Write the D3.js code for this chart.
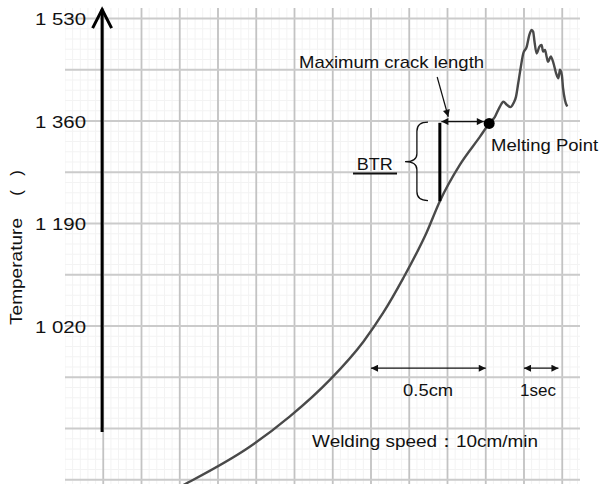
<!DOCTYPE html>
<html>
<head>
<meta charset="utf-8">
<script src="https://cdn.jsdelivr.net/npm/d3@7"></script>
<style>
  html, body { margin: 0; padding: 0; background: #fff; }
  svg { display: block; }
  text { font-family: "Liberation Sans", Arial, Helvetica, sans-serif; fill: #111; }
</style>
</head>
<body>
<div id="chart"></div>
<script>
// Weld pool thermal cycle: time after arc passage (s) vs temperature (deg C)
const timeSec = [3.00, 3.18, 4.84, 5.88, 6.93, 7.80, 8.32, 8.84, 9.46, 9.80, 10.33, 10.85, 11.09,
  11.24, 11.37, 11.46, 11.55, 11.65, 11.72, 11.79, 11.85, 11.91, 11.98, 12.07, 12.14, 12.20, 12.24,
  12.27, 12.33, 12.40, 12.46, 12.50, 12.55, 12.59, 12.63, 12.70, 12.77, 12.84, 12.90, 12.94, 12.99,
  13.02, 13.07, 13.13];
const tempC = [753, 759, 820, 870, 931, 994, 1042, 1099, 1176, 1227, 1288, 1334, 1356,
  1367, 1384, 1392, 1387, 1383, 1389, 1400, 1423, 1447, 1472, 1483, 1503, 1511, 1508,
  1494, 1472, 1483, 1486, 1475, 1478, 1467, 1458, 1467, 1456, 1439, 1431, 1445, 1436,
  1415, 1395, 1384];

const tickTemps = [1020, 1190, 1360, 1530];
const tickLabels = ["1 020", "1 190", "1 360", "1 530"];

// Melting point and brittle temperature range (BTR)
const meltTime = 11.09, meltTemp = 1356;
const btrTime = 9.80, btrLowTemp = 1227;

const W = 600, H = 484;
const svg = d3.select("#chart").append("svg").attr("width", W).attr("height", H);

// chart paper: 1 s per major column, 85 deg C per major row
const x = d3.scaleLinear().domain([0, 13.4641]).range([65, 580]);
const y = d3.scaleLinear().domain([1020, 1530]).range([326, 18.5]);
const gridTop = 8, gridBottom = H;

const defs = svg.append("defs");
defs.append("filter").attr("id", "soft").append("feGaussianBlur").attr("stdDeviation", 0.55);
defs.append("clipPath").attr("id", "paper").append("rect")
  .attr("x", x(0)).attr("y", gridTop).attr("width", x(13.4641) - x(0)).attr("height", gridBottom - gridTop);
defs.append("marker").attr("id", "head").attr("viewBox", "0 0 10 10")
  .attr("refX", 10).attr("refY", 5).attr("markerWidth", 10).attr("markerHeight", 7)
  .attr("markerUnits", "userSpaceOnUse").attr("orient", "auto-start-reverse")
  .append("path").attr("d", "M0,0 L10,5 L0,10 Z").attr("fill", "#111");

const grid = svg.append("g").attr("clip-path", "url(#paper)").attr("filter", "url(#soft)");

// faint minor rulings
const minorT = d3.range(0, 13.5, 0.2);
const minorY = d3.range(765, 1531, 17);
grid.selectAll(".mv").data(minorT).join("line")
  .attr("x1", d => x(d)).attr("x2", d => x(d)).attr("y1", gridTop).attr("y2", gridBottom)
  .attr("stroke", "#f3f3f3").attr("stroke-width", 1);
grid.selectAll(".mh").data(minorY).join("line")
  .attr("x1", x(0)).attr("x2", x(13.4641)).attr("y1", d => y(d)).attr("y2", d => y(d))
  .attr("stroke", "#f3f3f3").attr("stroke-width", 1);

// major rulings
const majorT = d3.range(1, 14);
const majorY = d3.range(765, 1531, 85);
grid.selectAll(".gv").data(majorT).join("line")
  .attr("x1", d => x(d)).attr("x2", d => x(d)).attr("y1", gridTop).attr("y2", gridBottom)
  .attr("stroke", "#c3c3c3").attr("stroke-width", 1.8);
grid.selectAll(".gh").data(majorY).join("line")
  .attr("x1", x(0)).attr("x2", x(13.4641)).attr("y1", d => y(d)).attr("y2", d => y(d))
  .attr("stroke", "#cbcbcb").attr("stroke-width", 1.8);

// temperature axis with open arrow head
const axisX = x(0.97);
svg.append("line").attr("x1", axisX).attr("x2", axisX)
  .attr("y1", y(844)).attr("y2", y(1545))
  .attr("stroke", "#000").attr("stroke-width", 3);
svg.append("path")
  .attr("d", `M${axisX - 9.5},${y(1514)} L${axisX},${y(1545)} L${axisX + 9.5},${y(1514)}`)
  .attr("fill", "none").attr("stroke", "#000").attr("stroke-width", 3).attr("stroke-linejoin", "miter");

function label(g, txt, px, py, width, anchor) {
  const t = g.append("text").attr("x", px).attr("y", py).attr("font-size", 17).text(txt);
  if (anchor) t.attr("text-anchor", anchor);
  if (width) t.attr("textLength", width).attr("lengthAdjust", "spacingAndGlyphs");
  return t;
}

// tick labels
tickTemps.forEach((v, i) => {
  label(svg, tickLabels[i], 86, y(v) + 6.5, 51, "end");
});

// axis title (rotated)
const titleX = 21.5;
svg.append("text").attr("transform", `translate(${titleX},325) rotate(-90)`)
  .attr("font-size", 17).attr("textLength", 107).attr("lengthAdjust", "spacingAndGlyphs")
  .text("Temperature");
svg.append("text").attr("transform", `translate(${titleX},193) rotate(-90)`)
  .attr("font-size", 17).attr("text-anchor", "middle").text("(");
svg.append("text").attr("transform", `translate(${titleX},173) rotate(-90)`)
  .attr("font-size", 17).attr("text-anchor", "middle").text(")");

// thermal cycle curve
const pts = timeSec.map((t, i) => [t, tempC[i]]);
const line = d3.line().x(d => x(d[0])).y(d => y(d[1])).curve(d3.curveMonotoneX);
svg.append("path").datum(pts).attr("d", line)
  .attr("fill", "none").attr("stroke", "#4a4a4a").attr("stroke-width", 2.4)
  .attr("stroke-linejoin", "round").attr("filter", "url(#soft)");

// melting point
svg.append("circle").attr("cx", x(meltTime)).attr("cy", y(meltTemp)).attr("r", 5.5).attr("fill", "#000");
label(svg, "Melting Point", x(11.14), y(1310), 107);

// BTR bar
svg.append("line").attr("x1", x(btrTime)).attr("x2", x(btrTime))
  .attr("y1", y(meltTemp + 1)).attr("y2", y(btrLowTemp))
  .attr("stroke", "#000").attr("stroke-width", 3);

// maximum crack length: double arrow from BTR bar to melting point
const arrowY = y(1359);
svg.append("line").attr("x1", x(9.84)).attr("x2", x(10.95))
  .attr("y1", arrowY).attr("y2", arrowY)
  .attr("stroke", "#111").attr("stroke-width", 1.3)
  .attr("marker-start", "url(#head)").attr("marker-end", "url(#head)");
svg.append("line").attr("x1", x(9.73)).attr("y1", y(1433)).attr("x2", x(10.02)).attr("y2", y(1367))
  .attr("stroke", "#111").attr("stroke-width", 1.2).attr("marker-end", "url(#head)");
label(svg, "Maximum crack length", x(6.12), y(1448), 185);

// brace grouping the BTR
const bx0 = x(9.49), bx1 = x(9.20), bx2 = x(8.89);
const bTop = y(1358), bMid = y(1292.5), bBot = y(1228);
svg.append("path")
  .attr("d", `M${bx0},${bTop} Q${bx1},${bTop} ${bx1},${bTop + 9}
    L${bx1},${bMid - 8} Q${bx1},${bMid} ${bx2},${bMid}
    Q${bx1},${bMid} ${bx1},${bMid + 8}
    L${bx1},${bBot - 9} Q${bx1},${bBot} ${bx0},${bBot}`)
  .attr("fill", "none").attr("stroke", "#111").attr("stroke-width", 1.3);
label(svg, "BTR", x(8.10), y(1279), 36, "middle");
svg.append("line").attr("x1", x(7.53)).attr("x2", x(8.68))
  .attr("y1", y(1273)).attr("y2", y(1273))
  .attr("stroke", "#111").attr("stroke-width", 2);

// scale bars: 3 s = 0.5 cm, 1 s
const barY = y(950);
svg.append("line").attr("x1", x(8)).attr("x2", x(11)).attr("y1", barY).attr("y2", barY)
  .attr("stroke", "#111").attr("stroke-width", 1.3)
  .attr("marker-start", "url(#head)").attr("marker-end", "url(#head)");
svg.append("line").attr("x1", x(12)).attr("x2", x(12.9)).attr("y1", barY).attr("y2", barY)
  .attr("stroke", "#111").attr("stroke-width", 1.3)
  .attr("marker-start", "url(#head)").attr("marker-end", "url(#head)");
label(svg, "0.5cm", x(8.84), y(904), 50);
label(svg, "1sec", x(11.896), y(904), 36);
label(svg, "Welding speed：10cm/min", x(6.46), y(819), 226);
</script>
</body>
</html>
